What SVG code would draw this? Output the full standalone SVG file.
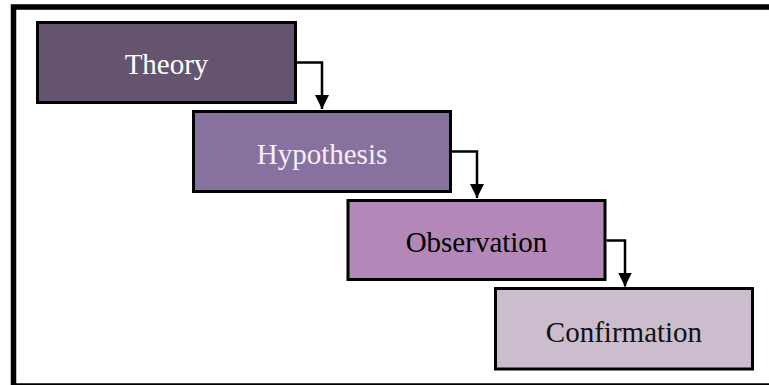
<svg xmlns="http://www.w3.org/2000/svg" width="769" height="385" viewBox="0 0 769 385">
  <style>
    .box { stroke: #000; stroke-width: 3; }
    .lbl { font-family: "Liberation Serif", "Times New Roman", serif; font-size: 29px; text-anchor: middle; }
    .conn { fill: none; stroke: #000; stroke-width: 2.5; }
  </style>
  <defs>
    <marker id="arrow" markerUnits="userSpaceOnUse" markerWidth="14" markerHeight="14" viewBox="0 0 14 14" refX="14" refY="7" orient="auto">
      <path d="M0,0 L14,7 L0,14 Z" fill="#000"/>
    </marker>
  </defs>
  <rect x="0" y="0" width="769" height="385" fill="#fff"/>
  <rect id="frame" x="13.5" y="7" width="800" height="379" fill="none" stroke="#000" stroke-width="5.5"/>
  <g id="theory">
    <rect class="box" x="37.5" y="22.5" width="258" height="80" fill="#645470"/>
    <text class="lbl" x="166.5" y="74" fill="#ffffff">Theory</text>
  </g>
  <g id="hypothesis">
    <rect class="box" x="193.5" y="111.5" width="257" height="80" fill="#87719f"/>
    <text class="lbl" x="322" y="163.5" fill="#f5f0f8">Hypothesis</text>
  </g>
  <g id="observation">
    <rect class="box" x="348" y="200.5" width="257" height="79" fill="#b387b7"/>
    <text class="lbl" x="476.5" y="251.5" fill="#000">Observation</text>
  </g>
  <g id="confirmation">
    <rect class="box" x="495.5" y="288.5" width="257" height="80.5" fill="#cbbdcd"/>
    <text class="lbl" x="624" y="341.5" fill="#111">Confirmation</text>
  </g>
  <g id="connectors">
    <path class="conn" d="M297,62.5 H322 V109" marker-end="url(#arrow)"/>
    <path class="conn" d="M452,151.5 H477 V198" marker-end="url(#arrow)"/>
    <path class="conn" d="M606.5,240.5 H625 V286.5" marker-end="url(#arrow)"/>
  </g>
</svg>
